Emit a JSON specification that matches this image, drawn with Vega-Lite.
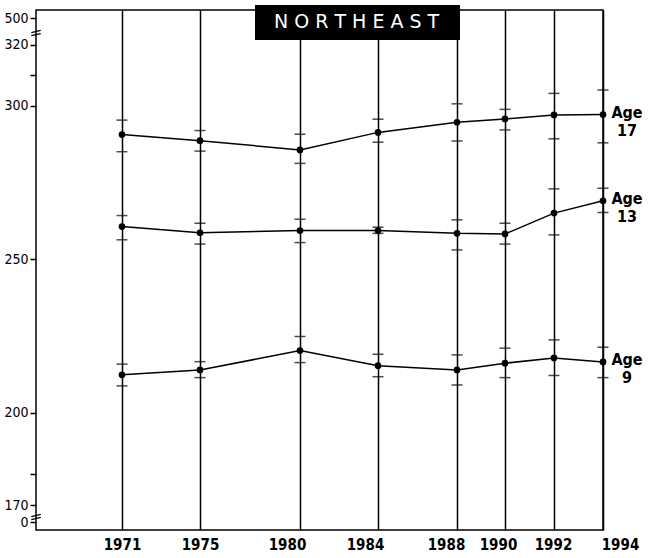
{
  "$schema": "https://vega.github.io/schema/vega-lite/v6.json",
  "width": 567,
  "height": 520,
  "autosize": {"type": "none"},
  "padding": {"left": 36, "top": 10, "right": 54, "bottom": 28},
  "background": "white",
  "config": {"view": {"stroke": "black", "strokeWidth": 1.5}, "font": "DejaVu Sans Condensed"},
  "datasets": {
    "scores": [
      {"year": 1971, "age": "17", "score": 290.7, "lo": 285.1, "hi": 295.4},
      {"year": 1975, "age": "17", "score": 288.7, "lo": 285.3, "hi": 292.0},
      {"year": 1980, "age": "17", "score": 285.7, "lo": 281.3, "hi": 290.8},
      {"year": 1984, "age": "17", "score": 291.4, "lo": 288.2, "hi": 295.7},
      {"year": 1988, "age": "17", "score": 294.7, "lo": 288.6, "hi": 300.7},
      {"year": 1990, "age": "17", "score": 295.8, "lo": 292.2, "hi": 298.9},
      {"year": 1992, "age": "17", "score": 297.1, "lo": 289.3, "hi": 304.1},
      {"year": 1994, "age": "17", "score": 297.2, "lo": 288.0, "hi": 305.2, "label": "Age\n17"},
      {"year": 1971, "age": "13", "score": 260.7, "lo": 256.4, "hi": 264.3},
      {"year": 1975, "age": "13", "score": 258.7, "lo": 255.0, "hi": 261.8},
      {"year": 1980, "age": "13", "score": 259.4, "lo": 255.5, "hi": 263.1},
      {"year": 1984, "age": "13", "score": 259.4, "lo": 258.5, "hi": 260.5},
      {"year": 1988, "age": "13", "score": 258.5, "lo": 253.1, "hi": 262.9},
      {"year": 1990, "age": "13", "score": 258.3, "lo": 255.0, "hi": 261.8},
      {"year": 1992, "age": "13", "score": 265.1, "lo": 258.0, "hi": 273.0},
      {"year": 1994, "age": "13", "score": 269.1, "lo": 265.3, "hi": 273.2, "label": "Age\n13"},
      {"year": 1971, "age": "9", "score": 212.4, "lo": 208.8, "hi": 215.9},
      {"year": 1975, "age": "9", "score": 214.0, "lo": 211.5, "hi": 216.7},
      {"year": 1980, "age": "9", "score": 220.3, "lo": 216.4, "hi": 224.9},
      {"year": 1984, "age": "9", "score": 215.4, "lo": 211.8, "hi": 219.1},
      {"year": 1988, "age": "9", "score": 214.0, "lo": 209.1, "hi": 218.9},
      {"year": 1990, "age": "9", "score": 216.2, "lo": 211.5, "hi": 221.1},
      {"year": 1992, "age": "9", "score": 217.9, "lo": 212.2, "hi": 223.8},
      {"year": 1994, "age": "9", "score": 216.6, "lo": 211.5, "hi": 221.4, "label": "Age\n9"}
    ]
  },
  "data": {"name": "scores"},
  "layer": [
    {
      "transform": [{"filter": "datum.year == 1971 && datum.age == '17'"}],
      "mark": {"type": "rect", "color": "black"},
      "encoding": {
        "x": {"datum": 1977.75, "type": "quantitative"},
        "x2": {"datum": 1988.125},
        "y": {"datum": 351, "type": "quantitative"},
        "y2": {"datum": 790}
      }
    },
    {
      "transform": [{"filter": "datum.year == 1971 && datum.age == '17'"}],
      "mark": {"type": "text", "color": "white", "font": "DejaVu Sans", "fontSize": 19, "align": "center", "baseline": "middle", "text": "N O R T H E A S T"},
      "encoding": {
        "x": {"datum": 1982.9, "type": "quantitative"},
        "y": {"datum": 470, "type": "quantitative"}
      }
    },
    {
      "mark": {"type": "line", "color": "black", "strokeWidth": 1.5},
      "encoding": {
        "x": {
          "field": "year",
          "type": "quantitative",
          "scale": {
            "domain": [1967, 1971, 1975, 1980, 1984, 1988, 1990, 1992, 1994],
            "range": [0, 86, 164, 264, 342, 421, 469, 518, 567],
            "nice": false,
            "zero": false
          },
          "axis": {
            "title": null,
            "values": [1971, 1975, 1980, 1984, 1988, 1990, 1992, 1994],
            "format": "d",
            "grid": true,
            "gridColor": "black",
            "gridWidth": 1.5,
            "gridOpacity": 1,
            "ticks": false,
            "domain": false,
            "labelFont": "DejaVu Sans Condensed",
            "labelFontSize": 15,
            "labelFontWeight": "bold",
            "labelColor": "black",
            "labelPadding": 7,
            "labelOverlap": false,
            "labelFlush": false,
            "labelOffset": {
              "condition": [
                {"test": "datum.value == 1980 || datum.value == 1984", "value": -13},
                {"test": "datum.value == 1988", "value": -11},
                {"test": "datum.value == 1990", "value": -7},
                {"test": "datum.value == 1992", "value": -1},
                {"test": "datum.value == 1994", "value": 17}
              ],
              "value": 0
            }
          }
        },
        "y": {
          "field": "score",
          "type": "quantitative",
          "scale": {
            "domain": [-50, 0, 170, 320, 500, 680],
            "range": [520, 512, 495, 34.6, 8, 0],
            "nice": false,
            "zero": false
          },
          "axis": {
            "title": null,
            "values": [0, 170, 180, 200, 250, 300, 310, 320, 500],
            "labelExpr": "datum.value == 180 || datum.value == 310 ? '' : datum.label",
            "grid": false,
            "domain": false,
            "tickColor": "black",
            "tickWidth": 1.5,
            "tickSize": 6,
            "labelFont": "DejaVu Sans Condensed",
            "labelFontSize": 14,
            "labelColor": "black",
            "labelPadding": 2,
            "labelOverlap": false,
            "labelFlush": false
          }
        },
        "detail": {"field": "age"}
      }
    },
    {
      "mark": {"type": "circle", "color": "black", "opacity": 1, "size": 45},
      "encoding": {
        "x": {"field": "year", "type": "quantitative"},
        "y": {"field": "score", "type": "quantitative"}
      }
    },
    {
      "mark": {"type": "tick", "orient": "horizontal", "size": 11, "thickness": 1.5, "color": "black"},
      "encoding": {
        "x": {"field": "year", "type": "quantitative"},
        "y": {"field": "lo", "type": "quantitative"}
      }
    },
    {
      "mark": {"type": "tick", "orient": "horizontal", "size": 11, "thickness": 1.5, "color": "black"},
      "encoding": {
        "x": {"field": "year", "type": "quantitative"},
        "y": {"field": "hi", "type": "quantitative"}
      }
    },
    {
      "transform": [{"filter": "isValid(datum.label)"}],
      "mark": {"type": "text", "align": "center", "baseline": "top", "dx": 24, "dy": -10, "fontSize": 16, "fontWeight": "bold", "lineBreak": "\n", "lineHeight": 18, "color": "black", "font": "DejaVu Sans Condensed"},
      "encoding": {
        "x": {"field": "year", "type": "quantitative"},
        "y": {"field": "score", "type": "quantitative"},
        "text": {"field": "label"}
      }
    },
    {
      "transform": [{"filter": "datum.year == 1971 && datum.age == '17'"}],
      "mark": {"type": "point", "shape": "M-1,-0.1L1,-0.55M-1,0.55L1,0.1", "filled": false, "stroke": "black", "strokeWidth": 1.3, "size": 90, "opacity": 1},
      "encoding": {
        "x": {"datum": 1967, "type": "quantitative"},
        "y": {"datum": 398, "type": "quantitative"}
      }
    },
    {
      "transform": [{"filter": "datum.year == 1971 && datum.age == '17'"}],
      "mark": {"type": "point", "shape": "M-1,-0.1L1,-0.55M-1,0.55L1,0.1", "filled": false, "stroke": "black", "strokeWidth": 1.3, "size": 90, "opacity": 1},
      "encoding": {
        "x": {"datum": 1967, "type": "quantitative"},
        "y": {"datum": 50, "type": "quantitative"}
      }
    }
  ]
}
